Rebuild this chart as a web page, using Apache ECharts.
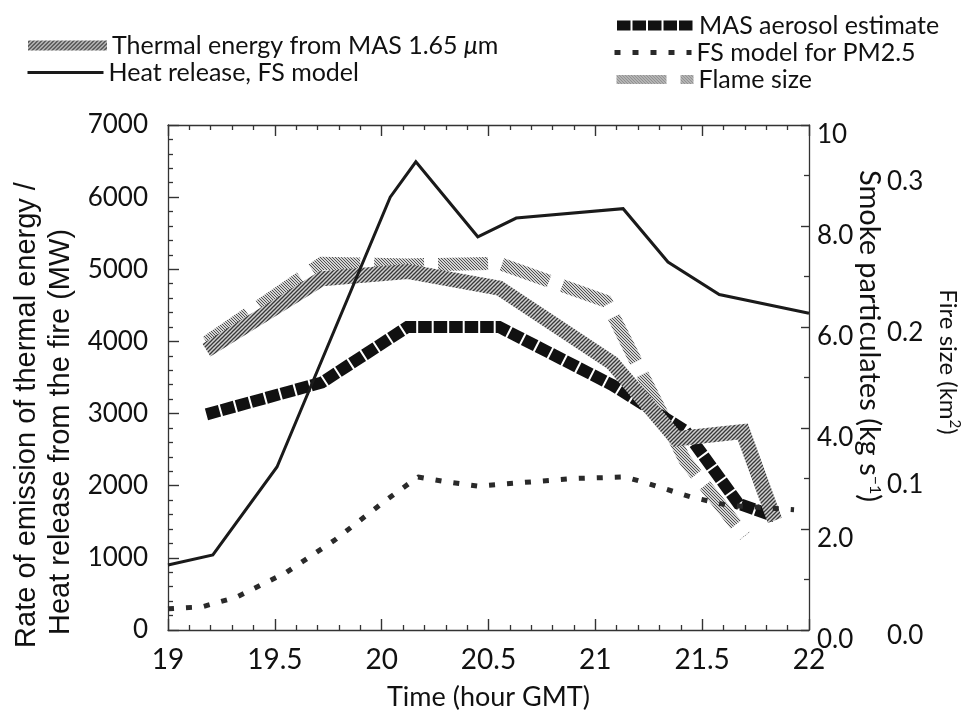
<!DOCTYPE html>
<html>
<head>
<meta charset="utf-8">
<script src="https://cdn.jsdelivr.net/npm/echarts@6/dist/echarts.min.js"></script>
<style>
html,body{margin:0;padding:0;background:#fff;}
#chart{width:969px;height:715px;}
</style>
</head>
<body>
<div id="chart"></div>
<script>
// ---- data (hour GMT) ----
const thermalHours = [19.18, 19.72, 20.12, 20.55, 21.08, 21.38, 21.69, 21.84];
const thermalMW    = [3880, 4870, 4970, 4740, 3700, 2650, 2750, 1520];

const heatHours = [19.0, 19.21, 19.51, 20.04, 20.16, 20.45, 20.63, 21.13, 21.34, 21.58, 22.0];
const heatMW    = [900, 1040, 2260, 6000, 6490, 5450, 5710, 5840, 5100, 4650, 4390];

const aerosolHours = [19.18, 19.72, 20.12, 20.55, 21.08, 21.42, 21.67, 21.84];
const aerosolKgs   = [4.27, 4.9, 6.0, 6.0, 4.85, 3.95, 2.5, 2.25];

const pm25Hours = [19.0, 19.16, 19.32, 19.55, 19.78, 20.02, 20.17, 20.31, 20.45, 20.9, 21.14, 21.24, 21.45, 21.62, 21.93];
const pm25Kgs   = [0.42, 0.46, 0.65, 1.13, 1.78, 2.57, 3.03, 2.93, 2.85, 3.0, 3.03, 2.91, 2.63, 2.47, 2.38];

const flameHours = [19.18, 19.72, 20.12, 20.55, 21.05, 21.42, 21.70];
const flameKm2   = [0.190, 0.242, 0.241, 0.242, 0.217, 0.112, 0.062];

const leftTicks  = {min: 0, max: 7000, interval: 1000};
const smokeTicks = {min: 0, max: 10, interval: 2};
const fireTicks  = {min: 0, max: 1/3, interval: 0.1};
const timeTicks  = {min: 19, max: 22, interval: 0.5};

const names = {
  thermal: 'Thermal energy from MAS 1.65 μm',
  heat: 'Heat release, FS model',
  aerosol: 'MAS aerosol estimate',
  pm25: 'FS model for PM2.5',
  flame: 'Flame size'
};
const titles = {
  left1: 'Rate of emission of thermal energy /',
  left2: 'Heat release from the fire (MW)',
  smoke: 'Smoke particulates (kg s{sup|−1})',
  fire: 'Fire size (km{sup|2})',
  time: 'Time (hour GMT)'
};

function zip(xs, ys){ return xs.map((x,i)=>[x, ys[i]]); }

// hatch patterns
function makePattern(kind){
  const c = document.createElement('canvas');
  if (kind === 'diag'){
    c.width = 4; c.height = 4;
    const g = c.getContext('2d');
    g.fillStyle = '#d0d0d0'; g.fillRect(0,0,4,4);
    g.strokeStyle = '#383838'; g.lineWidth = 1.3;
    g.beginPath(); g.moveTo(-1,5); g.lineTo(5,-1); g.stroke();
    g.beginPath(); g.moveTo(-1,1); g.lineTo(1,-1); g.stroke();
    g.beginPath(); g.moveTo(3,5); g.lineTo(5,3); g.stroke();
  } else {
    c.width = 3; c.height = 3;
    const g = c.getContext('2d');
    g.fillStyle = '#d4d4d4'; g.fillRect(0,0,3,3);
    g.fillStyle = '#505050';
    g.fillRect(0,0,1,1); g.fillRect(1,1,1,1); g.fillRect(2,2,1,1);
  }
  return {image: c, repeat: 'repeat'};
}
const diagPat = makePattern('diag');
const dotPat = makePattern('dot');

const FONT = 'Lato';
const TICK = '#333';
const chart = echarts.init(document.getElementById('chart'), null, {renderer: 'canvas'});

function legendBox(name, left, top, w, lw){
  return {
    data: [name], left: left, top: top, padding: 0,
    itemWidth: w, itemHeight: 14, selectedMode: false,
    itemStyle: {opacity: 0},
    lineStyle: {width: lw},
    textStyle: {fontFamily: FONT, fontSize: 25, color: '#111', rich: {i: {fontFamily: FONT, fontSize: 25, fontStyle: 'italic', color: '#111'}}},
    formatter: function(n){ return n.replace('μ', '{i|μ}'); }
  };
}

function axisParts(minorSplit, majorLen){
  return {
    axisLine: {show: true, onZero: false, lineStyle: {color: '#333', width: 1.3}},
    axisTick: {show: true, inside: true, length: majorLen, lineStyle: {color: TICK, width: 1.4}},
    minorTick: {show: true, splitNumber: minorSplit, length: 5, lineStyle: {color: TICK, width: 1.3}},
    splitLine: {show: false}
  };
}

const option = {
  animation: false,
  backgroundColor: '#fff',
  legend: [
    legendBox(names.thermal, 23, 33, 79, 10),
    legendBox(names.heat, 26, 60, 76, 3),
    legendBox(names.aerosol, 612, 13, 77, 10),
    legendBox(names.pm25, 612, 40, 77, 5),
    legendBox(names.flame, 612, 67, 77, 9)
  ],
  grid: {left: 168, right: 160, top: 125, bottom: 85, containLabel: false, outerBoundsMode: 'none'},
  xAxis: [
    Object.assign(axisParts(5, 11), {
      type: 'value', position: 'bottom', min: timeTicks.min, max: timeTicks.max, interval: timeTicks.interval,
      axisLabel: {fontFamily: FONT, fontSize: 28, color: '#111', margin: 16},
      name: titles.time, nameLocation: 'middle', nameGap: 54,
      nameTextStyle: {fontFamily: FONT, fontSize: 27, color: '#111'}
    }),
    Object.assign(axisParts(5, 11), {
      type: 'value', position: 'top', min: timeTicks.min, max: timeTicks.max, interval: timeTicks.interval,
      axisLabel: {show: false}
    })
  ],
  yAxis: [
    Object.assign(axisParts(5, 11), {
      type: 'value', position: 'left', min: leftTicks.min, max: leftTicks.max, interval: leftTicks.interval,
      axisLabel: {fontFamily: FONT, fontSize: 26, color: '#111', margin: 20, formatter: function(v){ return String(v); }}
    }),
    Object.assign(axisParts(2, 8), {
      type: 'value', position: 'right', min: smokeTicks.min, max: smokeTicks.max, interval: smokeTicks.interval,
      axisLabel: {fontFamily: FONT, fontSize: 26, color: '#111', margin: 8, verticalAlign: 'top', lineHeight: 20,
        formatter: function(v){ return v === 10 ? '10' : v.toFixed(1); }}
    }),
    {
      type: 'value', position: 'right', offset: 78, min: fireTicks.min, max: fireTicks.max, interval: fireTicks.interval,
      axisLine: {show: false}, axisTick: {show: false}, splitLine: {show: false},
      axisLabel: {fontFamily: FONT, fontSize: 26, color: '#111', margin: 0, showMaxLabel: false, verticalAlign: 'top', lineHeight: 12,
        formatter: function(v){ return v.toFixed(1); }}
    }
  ],
  graphic: [
    {type: 'text', x: 27, y: 415, rotation: Math.PI / 2, silent: true,
      style: {text: titles.left1, fontFamily: 'Liberation Sans', fontSize: 29, fill: '#111', align: 'center', verticalAlign: 'middle'}},
    {type: 'text', x: 61, y: 432, rotation: Math.PI / 2, silent: true,
      style: {text: titles.left2, fontFamily: 'Liberation Sans', fontSize: 29, fill: '#111', align: 'center', verticalAlign: 'middle'}},
    {type: 'text', x: 869, y: 336, rotation: -Math.PI / 2, silent: true,
      style: {text: titles.smoke, fontFamily: FONT, fontSize: 29, fill: '#111', align: 'center', verticalAlign: 'middle',
        rich: {sup: {fontFamily: FONT, fontSize: 16, fill: '#111', verticalAlign: 'top', padding: [0, 0, 12, 0]}}}},
    {type: 'text', x: 948, y: 362, rotation: -Math.PI / 2, silent: true,
      style: {text: titles.fire, fontFamily: FONT, fontSize: 24, fill: '#111', align: 'center', verticalAlign: 'middle',
        rich: {sup: {fontFamily: FONT, fontSize: 15, fill: '#111', verticalAlign: 'top', padding: [0, 0, 14, 0]}}}}
  ],
  series: [
    {
      name: names.flame, type: 'line', yAxisIndex: 2, data: zip(flameHours, flameKm2),
      symbol: 'none', z: 2, silent: true,
      lineStyle: {color: dotPat, width: 13, type: [50, 14], cap: 'butt', join: 'miter'}
    },
    {
      name: names.aerosol, type: 'line', yAxisIndex: 1, data: zip(aerosolHours, aerosolKgs),
      symbol: 'none', z: 3, silent: true,
      lineStyle: {color: '#111', width: 12, type: [13.5, 2], cap: 'butt', join: 'miter'}
    },
    {
      name: names.thermal, type: 'line', yAxisIndex: 0, data: zip(thermalHours, thermalMW),
      symbol: 'none', z: 4, silent: true,
      lineStyle: {color: diagPat, width: 15, cap: 'butt', join: 'miter'}
    },
    {
      name: names.pm25, type: 'line', yAxisIndex: 1, data: zip(pm25Hours, pm25Kgs),
      symbol: 'none', z: 5, silent: true,
      lineStyle: {color: '#2a2a2a', width: 5, type: [6, 12], cap: 'butt'}
    },
    {
      name: names.heat, type: 'line', yAxisIndex: 0, data: zip(heatHours, heatMW),
      symbol: 'none', z: 6, silent: true,
      lineStyle: {color: '#1a1a1a', width: 3, join: 'miter'}
    }
  ]
};
chart.setOption(option);
</script>
</body>
</html>
